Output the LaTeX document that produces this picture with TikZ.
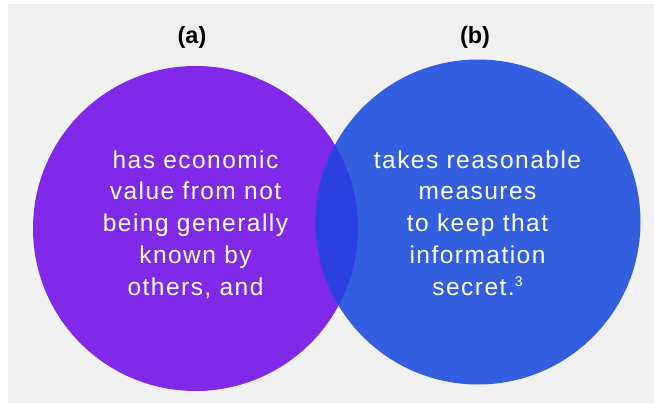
\documentclass[tikz,border=0pt]{standalone}
\usepackage{fontspec}
\setmainfont{Liberation Sans}
\newfontfamily\bodyfam[LetterSpace=6]{Liberation Sans}
\usepackage{xcolor}
\usepackage{tikz}

\definecolor{panelgray}{HTML}{F1F1F1}
\definecolor{setpurple}{HTML}{8029E8}
\definecolor{setblue}{HTML}{335EE0}
\definecolor{setoverlap}{HTML}{2A40DF}

\newcommand{\bodyfont}{\bodyfam\fontsize{24.5}{31.7}\selectfont}
\newcommand{\labelfont}{\bfseries\fontsize{23.5}{26}\selectfont}

\tikzstyle{setcircle} = [circle,inner sep=0pt,minimum size=325pt]
\tikzstyle{settext} = [text=white,align=center,anchor=base,font=\bodyfont]
\tikzstyle{setlabel} = [anchor=base,font=\labelfont]

\begin{document}
\begin{tikzpicture}[x=1pt,y=-1pt]
	\useasboundingbox (0,0) rectangle (654,404);

	%Background
	\fill [white] (0,0) rectangle (654,404);
	\fill [panelgray] (8,4) rectangle (654,403);

	% Circles:
	% the blue one sits on top, the lens in between gets its own shade
	\node [setcircle,fill=setpurple] (circA) at (195.5,228.5) {};
	\node [setcircle,fill=setblue] (circB) at (478,222) {};
	\begin{scope}
		\clip (circA.center) circle (162.5pt);
		\fill [setoverlap] (circB.center) circle (162.5pt);
	\end{scope}

	% Labels above the circles
	\node [setlabel] (labA) at (192,44) {(a)};
	\node [setlabel] (labB) at (475,44) {(b)};

	% Texts inside (base anchor = last line)
	\node [settext] (txtA) at (195.5,295) {has economic\\value from not\\being generally\\known by\\others, and};
	\node [settext] (txtB) at (477.5,295) {takes reasonable\\measures\\to keep that\\information\\secret.{\fontsize{14}{14}\selectfont\raisebox{0.6em}{3}}};

\end{tikzpicture}
\end{document}
